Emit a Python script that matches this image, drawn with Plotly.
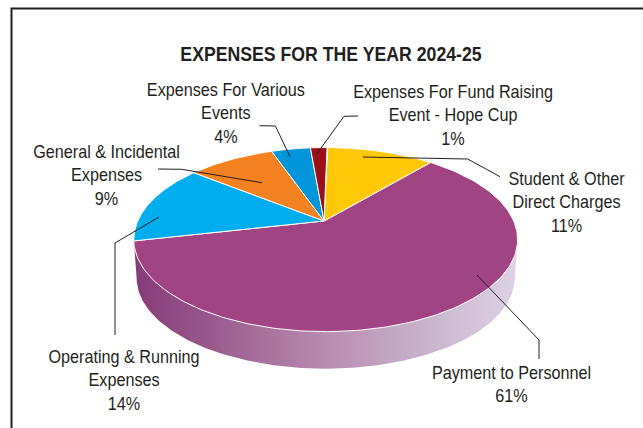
import numpy as np
import plotly.graph_objects as go

# ---- data ----
categories = ["Student & Other Direct Charges", "Payment to Personnel",
              "Operating & Running Expenses", "General & Incidental Expenses",
              "Expenses For Various Events", "Expenses For Fund Raising Event - Hope Cup"]
slice_shares = [11.0, 60.4, 14.0, 8.9, 4.0, 1.7]      # shares as drawn
printed_pct = ["11%", "61%", "14%", "9%", "4%", "1%"]  # percentages as printed
label_text = ["Student & Other<br>Direct Charges", "Payment to Personnel",
              "Operating & Running<br>Expenses", "General & Incidental<br>Expenses",
              "Expenses For Various<br>Events", "Expenses For Fund Raising<br>Event - Hope Cup"]
colors = ["#FFC90A", "#A24384", "#00ADEE", "#F58220", "#0096D9", "#9B1118"]
title_text = "EXPENSES FOR THE YEAR 2024-25"

# ---- layout ----
label_pos = [(566, 202), (511.5, 384), (124, 380), (106, 175), (225.5, 113.5), (453, 115.5)]
leaders = [
    [(363, 157), (467.7, 159), (500, 176.7)],
    [(477, 275), (539, 340), (539, 359)],
    [(159, 217), (115, 243), (115, 335)],
    [(158, 169), (181.7, 169.3), (261.7, 182.7)],
    [(259.5, 125.7), (275.4, 126), (290, 156.7)],
    [(358, 116), (344, 116.3), (316.7, 154)],
]
CX, CY, A, B, K = 325.7, 221.0, 188.0, 88.3, 0.2018
APEX_X = 324.0
START_DEG, DEPTH, BASE_SCALE = 0.5, 38.7, 0.985
FONT = "Liberation Sans, Arial, sans-serif"


def project(deg, scale=1.0, dy=0.0):
    t = np.radians(deg)
    X, Y = np.sin(t), np.cos(t)
    w = 1 + K * Y
    return CX + scale * A * X / w, CY + dy - scale * B * Y / w


fig = go.Figure()

# side wall with gradient
tangent_r = np.degrees(np.arccos(-K))
tangent_l = 360 - tangent_r
th = np.linspace(tangent_r, tangent_l, 200)
bx, by = project(th, scale=BASE_SCALE, dy=DEPTH)
rx, ry = project(np.array([tangent_l, tangent_r]))
fig.add_trace(go.Scatter(
    x=np.r_[bx, rx, bx[0]], y=np.r_[by, ry, by[0]], mode="lines", fill="toself",
    line=dict(width=0), hoverinfo="skip",
    fillgradient=dict(type="horizontal",
                      colorscale=[[0, "#873A78"], [0.2, "#985A8C"], [0.5, "#B78CB1"],
                                  [0.8, "#CDB8D2"], [1, "#DDD3E5"]]),
))

# top slices
edges = START_DEG + 3.6 * np.r_[0, np.cumsum(slice_shares)]
order = [1, 0, 2, 3, 4, 5]
for i in order:
    th = np.linspace(edges[i], edges[i + 1], 160)
    px_, py_ = project(th)
    fig.add_trace(go.Scatter(
        x=np.r_[APEX_X, px_, APEX_X], y=np.r_[CY, py_, CY], mode="lines", fill="toself",
        fillcolor=colors[i], line=dict(color="white", width=1),
        name=categories[i], hoverinfo="name",
    ))

# leader lines
for pts in leaders:
    fig.add_trace(go.Scatter(x=[p[0] for p in pts], y=[p[1] for p in pts], mode="lines",
                             line=dict(color="#231F20", width=1), hoverinfo="skip"))

# labels
for txt, pct, (x, y) in zip(label_text, printed_pct, label_pos):
    fig.add_annotation(x=x, y=y, text=f"{txt}<br>{pct}", showarrow=False, align="center",
                       xanchor="center", yanchor="middle",
                       font=dict(family=FONT, size=18, color="#231F20"))
fig.add_annotation(x=331, y=53, text=f"<b>{title_text}</b>", showarrow=False,
                   xanchor="center", yanchor="middle",
                   font=dict(family=FONT, size=21, color="#231F20"))

# frame running off the page
fig.add_shape(type="path", path="M 11.5 440 L 11.5 8.5 L 660 8.5",
              line=dict(color="#231F20", width=2))

fig.update_layout(
    width=643, height=428, margin=dict(l=0, r=0, t=0, b=0), showlegend=False,
    paper_bgcolor="white", plot_bgcolor="white",
    xaxis=dict(range=[0, 643], visible=False, fixedrange=True),
    yaxis=dict(range=[428, 0], visible=False, fixedrange=True),
)

# no page margin; condense the annotation text horizontally (no narrow font is installed)
post = """
document.body.style.margin = '0';
document.querySelectorAll('.annotation-text-g text').forEach(function (t) {
  var b = t.getBBox(), cx = b.x + b.width / 2;
  var s = parseFloat(t.style.fontSize) > 20 ? 0.842 : 0.90;
  t.setAttribute('transform', 'translate(' + cx + ',0) scale(' + s + ',1) translate(' + (-cx) + ',0)');
});
"""
fig.write_html("out.html", config={"displayModeBar": False}, post_script=post)
